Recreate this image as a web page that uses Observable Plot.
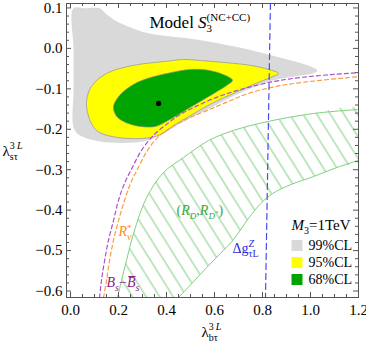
<!DOCTYPE html>
<html><head><meta charset="utf-8">
<script src="https://cdn.jsdelivr.net/npm/d3@7"></script>
<script src="https://cdn.jsdelivr.net/npm/@observablehq/plot@0.6"></script>
<style>body{margin:0;background:#fff;}</style>
</head><body>
<div id="chart"></div>
<script>
// ---- data ----
const region99 = [[0.0125,0.099],[0.06,0.099],[0.121,0.099],[0.142,0.089],[0.1625,0.079],[0.192,0.067],[0.221,0.059],[0.271,0.047],[0.329,0.037],[0.471,0.026],[0.542,0.020],[0.679,0.005],[0.792,-0.010],[0.8875,-0.025],[0.9875,-0.042],[1.029,-0.055],[1.008,-0.062],[0.958,-0.067],[0.846,-0.079],[0.75,-0.099],[0.667,-0.121],[0.596,-0.144],[0.542,-0.159],[0.458,-0.186],[0.396,-0.208],[0.333,-0.225],[0.2625,-0.233],[0.167,-0.233],[0.083,-0.225],[0.033,-0.213],[0.0125,-0.195],[0.0125,-0.10],[0.0125,0.0]];
const region95 = [[0.867,-0.062],[0.825,-0.052],[0.75,-0.042],[0.679,-0.037],[0.542,-0.030],[0.471,-0.0275],[0.4,-0.032],[0.2625,-0.042],[0.15,-0.062],[0.0875,-0.094],[0.067,-0.129],[0.071,-0.1585],[0.092,-0.191],[0.121,-0.208],[0.192,-0.22],[0.271,-0.223],[0.333,-0.2204],[0.375,-0.213],[0.4375,-0.188],[0.5,-0.166],[0.596,-0.134],[0.6875,-0.109],[0.771,-0.087],[0.833,-0.072]];
const region68 = [[0.675,-0.079],[0.646,-0.067],[0.583,-0.055],[0.5,-0.052],[0.417,-0.06],[0.333,-0.072],[0.2625,-0.089],[0.208,-0.114],[0.179,-0.144],[0.192,-0.168],[0.229,-0.183],[0.292,-0.193],[0.354,-0.193],[0.408,-0.178],[0.471,-0.156],[0.542,-0.131],[0.604,-0.109],[0.65,-0.092]];
const bestFit = [[0.367,-0.136]];
const bsMixing = [[0.121,-0.616],[0.129,-0.574],[0.142,-0.525],[0.158,-0.475],[0.179,-0.426],[0.2,-0.376],[0.225,-0.334],[0.258,-0.294],[0.296,-0.252],[0.346,-0.215],[0.404,-0.186],[0.458,-0.163],[0.521,-0.144],[0.596,-0.124],[0.667,-0.109],[0.7375,-0.097],[0.846,-0.082],[0.958,-0.072],[1.083,-0.065],[1.2,-0.060]];
const rNuNu = [[0.1375,-0.616],[0.15,-0.574],[0.1625,-0.525],[0.179,-0.475],[0.2,-0.426],[0.225,-0.376],[0.25,-0.334],[0.283,-0.294],[0.321,-0.252],[0.367,-0.218],[0.417,-0.196],[0.479,-0.176],[0.579,-0.151],[0.667,-0.129],[0.7375,-0.112],[0.875,-0.092],[1.042,-0.079],[1.2,-0.070]];
const dgZ = [[0.833,0.111],[0.8125,-0.616]];
const rdUpper = [[0.196,-0.616],[0.2125,-0.574],[0.233,-0.525],[0.2625,-0.458],[0.317,-0.369],[0.3875,-0.307],[0.471,-0.270],[0.575,-0.228],[0.679,-0.203],[0.821,-0.181],[1.0125,-0.161],[1.2,-0.151]];
const rdLower = [[0.45,-0.616],[0.5125,-0.577],[0.567,-0.542],[0.625,-0.507],[0.679,-0.473],[0.742,-0.420],[0.792,-0.384],[0.842,-0.359],[0.917,-0.337],[1.0125,-0.317],[1.108,-0.295],[1.2,-0.277]];
const xMajor = [0, 0.2, 0.4, 0.6, 0.8, 1.0, 1.2];
const yMajor = [-0.6, -0.5, -0.4, -0.3, -0.2, -0.1, 0.0, 0.1];
const xMinor = [0.05,0.1,0.15,0.25,0.3,0.35,0.45,0.5,0.55,0.65,0.7,0.75,0.85,0.9,0.95,1.05,1.1,1.15];
const yMinor = [-0.58,-0.56,-0.54,-0.52,-0.48,-0.46,-0.44,-0.42,-0.38,-0.36,-0.34,-0.32,-0.28,-0.26,-0.24,-0.22,-0.18,-0.16,-0.14,-0.12,-0.08,-0.06,-0.04,-0.02,0.02,0.04,0.06,0.08];
const legendLabels = ["99%CL", "95%CL", "68%CL"];
const legendTitle = "M3=1TeV";

// ---- styles ----
const C99 = "#d9d9d9", C95 = "#ffff00", C68 = "#00a400";
const legendColors = [C99, C95, C68];
const W = 366, H = 344, mL = 66, mR = 8, mT = 3, mB = 47;
const iw = W - mL - mR, ih = H - mT - mB;
const FRAME = "#555";
const FONT = "Liberation Serif, Times New Roman, serif";

const annotations = [
  {key: "Model S3(NC+CC)", x: 0.329, y: 0.065, color: "#000", size: 17},
  {key: "Rν*", x: 0.2, y: -0.452, color: "#ff8c1a", size: 14},
  {key: "Bs−Bs", x: 0.15, y: -0.578, color: "#8b228b", size: 14},
  {key: "(RD,RD*)", x: 0.442, y: -0.40, color: "#3aa83a", size: 14},
  {key: "ΔgZτL", x: 0.675, y: -0.494, color: "#2a2ae0", size: 14},
  {key: "λbτ3L", x: 0.546, y: -0.703, color: "#000", size: 15},
  {key: "λsτ3L", x: -0.283, y: -0.255, color: "#000", size: 15}
];

const RICH = {
  "Model S3(NC+CC)": [{t: "Model "}, {t: "S", it: 1}, {t: "(NC+CC)", size: 11, shift: -7}, {t: "3", size: 11, shift: 4, back: 1}],
  "Rν*": [{t: "R", it: 1}, {t: "*", size: 9, shift: -5}, {t: "ν", size: 10, it: 1, shift: 4, back: 1}],
  "Bs−Bs": [{t: "B", it: 1}, {t: "s", size: 10, it: 1, shift: 4}, {t: "−"}, {t: "B\u0305", it: 1}, {t: "s", size: 10, it: 1, shift: 4}],
  "(RD,RD*)": [{t: "("}, {t: "R", it: 1}, {t: "D", size: 9, it: 1, shift: 4}, {t: ","}, {t: "R", it: 1}, {t: "D", size: 9, it: 1, shift: 4}, {t: "*", size: 7, shift: 0}, {t: ")"}],
  "ΔgZτL": [{t: "Δg"}, {t: "Z", size: 10, it: 1, shift: -6}, {t: "τL", size: 10, shift: 4, back: 1}],
  "M3=1TeV": [{t: "M", it: 1}, {t: "3", size: 10, shift: 4}, {t: "=1TeV"}],
  "λbτ3L": [{t: "λ"}, {t: "3\u2009", size: 10, shift: -7}, {t: "L", size: 10, it: 1, shift: -7}, {t: "bτ", size: 10, shift: 4, back: 2}],
  "λsτ3L": [{t: "λ"}, {t: "3\u2009", size: 10, shift: -7}, {t: "L", size: 10, it: 1, shift: -7}, {t: "sτ", size: 10, shift: 4, back: 2}]
};

const px = d => d[0], py = d => d[1];
const fmt = d3.format(".1f");

const marks = [
  Plot.line(region99, {x: px, y: py, fill: C99, stroke: "none", curve: "catmull-rom-closed", clip: true}),
  Plot.line(region95, {x: px, y: py, fill: C95, stroke: "#9a9a9a", strokeWidth: 0.8, curve: "catmull-rom-closed", clip: true}),
  Plot.line(region68, {x: px, y: py, fill: C68, stroke: "#8a8a8a", strokeWidth: 0.7, curve: "catmull-rom-closed", clip: true}),
  Plot.line(rdUpper.concat(rdLower.slice().reverse()), {x: px, y: py, fill: "url(#rdHatch)", stroke: "none", curve: "catmull-rom", clip: true}),
  Plot.line(rdUpper, {x: px, y: py, stroke: "#7fd07f", strokeWidth: 1, curve: "catmull-rom", clip: true}),
  Plot.line(rdLower, {x: px, y: py, stroke: "#7fd07f", strokeWidth: 1, curve: "catmull-rom", clip: true}),
  Plot.line(bsMixing, {x: px, y: py, stroke: "#b050c8", strokeWidth: 1.2, strokeDasharray: "4,3", curve: "catmull-rom", clip: true}),
  Plot.line(rNuNu, {x: px, y: py, stroke: "#ff9a40", strokeWidth: 1.2, strokeDasharray: "4,3", curve: "catmull-rom", clip: true}),
  Plot.line(dgZ, {x: px, y: py, stroke: "#4a4af0", strokeWidth: 1.2, strokeDasharray: "6,4", clip: true}),
  Plot.dot(bestFit, {x: px, y: py, r: 2.6, fill: "#000", stroke: "none"}),
  // frame + inner ticks (Mathematica style)
  Plot.frame({stroke: FRAME}),
  Plot.ruleX(xMajor, {stroke: FRAME, insetTop: ih - 5}),
  Plot.ruleX(xMajor, {stroke: FRAME, insetBottom: ih - 5}),
  Plot.ruleX(xMinor, {stroke: FRAME, insetTop: ih - 3}),
  Plot.ruleX(xMinor, {stroke: FRAME, insetBottom: ih - 3}),
  Plot.ruleY(yMajor, {stroke: FRAME, insetRight: iw - 5}),
  Plot.ruleY(yMajor, {stroke: FRAME, insetLeft: iw - 5}),
  Plot.ruleY(yMinor, {stroke: FRAME, insetRight: iw - 3}),
  Plot.ruleY(yMinor, {stroke: FRAME, insetLeft: iw - 3}),
  Plot.axisX(xMajor, {anchor: "bottom", tickSize: 0, tickPadding: 7, tickFormat: fmt, fontSize: 15, label: null}),
  Plot.axisY(yMajor, {anchor: "left", tickSize: 0, tickPadding: 4, tickFormat: fmt, fontSize: 15, label: null}),
  // annotations and axis titles
  ...annotations.map(a => Plot.text([a], {x: "x", y: "y", text: "key", fill: a.color, fontSize: a.size, textAnchor: "start", lineAnchor: "middle"})),
  // legend
  Plot.text([legendTitle], {frameAnchor: "bottom-right", lineAnchor: "middle", dx: -67, dy: -72, textAnchor: "start", fontSize: 15, text: d => d}),
  ...legendLabels.map((lab, i) => Plot.dot([lab], {frameAnchor: "bottom-right", dx: -61.5, dy: -52 + 17 * i, symbol: "square", r: 6.2, fill: legendColors[i], stroke: "none"})),
  ...legendLabels.map((lab, i) => Plot.text([lab], {frameAnchor: "bottom-right", lineAnchor: "middle", dx: -50, dy: -52 + 17 * i, textAnchor: "start", fontSize: 14, text: d => d}))
];

const svg = Plot.plot({
  width: W, height: H,
  marginLeft: mL, marginRight: mR, marginTop: mT, marginBottom: mB,
  x: {domain: [-0.0167, 1.2]},
  y: {domain: [-0.616, 0.111]},
  style: {fontFamily: FONT, background: "#fff", color: "#000", overflow: "visible"},
  marks
});
document.getElementById("chart").appendChild(svg);

// hatch pattern for the (R_D, R_D*) band
const defs = d3.select(svg).insert("defs", ":first-child");
const pat = defs.append("pattern").attr("id", "rdHatch").attr("patternUnits", "userSpaceOnUse")
  .attr("width", 11.5).attr("height", 11.5).attr("patternTransform", "rotate(-32)");
pat.append("line").attr("x1", 1).attr("y1", -1).attr("x2", 1).attr("y2", 13)
  .attr("stroke", "#7fd07f").attr("stroke-width", 1);

// rich text (sub/superscripts)
d3.select(svg).selectAll("text").each(function () {
  const spec = RICH[this.textContent];
  if (!spec) return;
  const t = d3.select(this);
  t.text(null);
  let cur = 0;
  const widths = [];
  for (const p of spec) {
    const ts = t.append("tspan").text(p.t);
    const target = p.shift || 0;
    if (target !== cur) ts.attr("dy", target - cur);
    cur = target;
    if (p.size) ts.attr("font-size", p.size);
    if (p.it) ts.attr("font-style", "italic");
    if (p.back) {
      let w = 0;
      for (let k = 1; k <= p.back; k++) w += widths[widths.length - k] || 0;
      ts.attr("dx", -w);
    }
    widths.push(ts.node().getComputedTextLength());
  }
});
</script>
</body></html>
